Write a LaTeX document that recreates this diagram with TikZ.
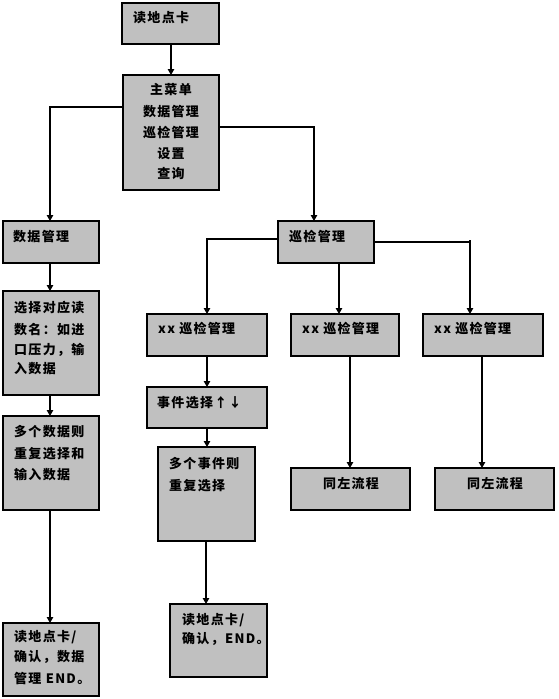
\documentclass[tikz,border=0pt]{standalone}
\usepackage{fontspec}
\setmainfont{Noto Sans CJK SC}[LetterSpace=10]
\usetikzlibrary{arrows.meta}
\definecolor{boxgray}{HTML}{C0C0C0}
\tikzset{
  box/.style={draw=black, fill=boxgray, line width=1.1pt, inner sep=0pt, outer sep=0pt, anchor=north west},
  txt/.style={inner sep=0pt, anchor=west, font=\fontsize{13}{15}\selectfont\bfseries},
  ctxt/.style={inner sep=0pt, anchor=center, font=\fontsize{13}{15}\selectfont\bfseries},
  arr/.style={draw=black, line width=1.1pt, -{Triangle[width=6.5pt,length=6pt]}}
}
\newcommand{\bx}[5]{\node[box, minimum width=\the\numexpr #4-#2\relax pt, minimum height=\the\numexpr #5-#3\relax pt] (#1) at (#2,#3) {};}
\begin{document}
\begin{tikzpicture}[x=1pt,y=-1pt]
\useasboundingbox (0,0) rectangle (558,699);
% boxes
\bx{A}{122}{3}{219}{44}
\bx{B}{123}{75}{219}{190}
\bx{C}{3}{221}{99}{263}
\bx{D}{3}{291}{99}{395}
\bx{E}{3}{416}{99}{510}
\bx{F}{3}{623}{99}{696}
\bx{G}{278}{221}{374}{263}
\bx{H}{147}{314}{267}{356}
\bx{I}{291}{314}{399}{356}
\bx{J}{423}{314}{543}{356}
\bx{K}{147}{387}{267}{428}
\bx{L}{158}{447}{255}{541}
\bx{M}{170}{604}{267}{677}
\bx{N}{291}{468}{410}{510}
\bx{O}{435}{468}{554}{510}
% texts
\node[txt] (tA) at (133,18) {读地点卡};
\node[ctxt] (tB1) at (171,90) {主菜单};
\node[ctxt] (tB2) at (171,112) {数据管理};
\node[ctxt] (tB3) at (171,133) {巡检管理};
\node[ctxt] (tB4) at (171,154) {设置};
\node[ctxt] (tB5) at (171,174) {查询};
\node[txt] (tC) at (13,237) {数据管理};
\node[txt] (tD1) at (14,308) {选择对应读};
\node[txt] (tD2) at (14,330) {数名：如进};
\node[txt] (tD3) at (14,350) {口压力，输};
\node[txt] (tD4) at (14,369) {入数据};
\node[txt] (tE1) at (14,432) {多个数据则};
\node[txt] (tE2) at (14,454) {重复选择和};
\node[txt] (tE3) at (14,475) {输入数据};
\node[txt] (tF1) at (14,637) {读地点卡/};
\node[txt] (tF2) at (14,657) {确认，数据};
\node[txt] (tF3) at (14,678) {管理 END。};
\node[txt] (tG) at (289,237) {巡检管理};
\node[txt] (tH) at (158,329) {xx 巡检管理};
\node[txt] (tI) at (302,329) {xx 巡检管理};
\node[txt] (tJ) at (434,329) {xx 巡检管理};
\node[txt] (tK) at (157,403) {事件选择↑↓};
\node[txt] (tL1) at (169,464) {多个事件则};
\node[txt] (tL2) at (169,486) {重复选择};
\node[txt] (tM1) at (182,620) {读地点卡/};
\node[txt] (tM2) at (182,639) {确认，END。};
\node[ctxt] (tN) at (351,484) {同左流程};
\node[ctxt] (tO) at (495,484) {同左流程};
% connectors
\draw[arr] (171,0 |- A.south) -- (171,0 |- B.north);
\draw[arr] (B.west |- 0,107) -| (50,0 |- C.north);
\draw[arr] (B.east |- 0,127) -| (314,0 |- G.north);
\draw[arr] (50,0 |- C.south) -- (50,0 |- D.north);
\draw[arr] (50,0 |- D.south) -- (50,0 |- E.north);
\draw[arr] (50,0 |- E.south) -- (50,0 |- F.north);
\draw[arr] (G.west |- 0,239) -| (207,0 |- H.north);
\draw[arr] (339,0 |- G.south) -- (339,0 |- I.north);
\draw[arr] (G.east |- 0,242) -| (470,0 |- J.north);
\draw[line width=1.1pt] (470,240) -- (470,242);
\draw[arr] (207,0 |- H.south) -- (207,0 |- K.north);
\draw[arr] (207,0 |- K.south) -- (207,0 |- L.north);
\draw[arr] (206,0 |- L.south) -- (206,0 |- M.north);
\draw[arr] (350,0 |- I.south) -- (350,0 |- N.north);
\draw[arr] (482,0 |- J.south) -- (482,0 |- O.north);
\end{tikzpicture}
\end{document}
